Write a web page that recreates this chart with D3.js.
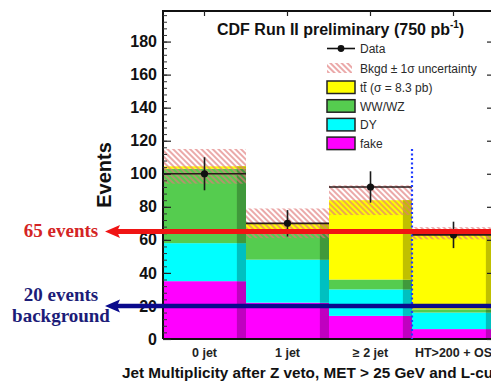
<!DOCTYPE html>
<html>
<head>
<meta charset="utf-8">
<script src="https://cdn.jsdelivr.net/npm/d3@7"></script>
<style>
  html, body { margin: 0; padding: 0; background: #ffffff; }
  svg { display: block; }
</style>
</head>
<body>
<svg id="chart" width="491" height="382"></svg>
<script>
// Jet-multiplicity bins and the stacked background expectations per bin
const categories = ["0 jet", "1 jet", "\u2265 2 jet", "HT>200 + OS"];
const fake = [35, 22, 14, 6];
const dy = [23, 26, 16, 10];
const wwwz = [45, 18, 6, 2];
const ttbar = [1.5, 4, 48, 46];
const bkgdErr = [10.5, 9, 9, 3.7];
const dataValues = [100, 70, 92, 63];
const dataErrors = [10, 8, 9.5, 8];
const yTicks = [0, 20, 40, 60, 80, 100, 120, 140, 160, 180];
const seriesNames = ["fake", "DY", "WW/WZ", "ttbar"];
const seriesLabels = ["fake", "DY", "WW/WZ", "tt (\u03c3 = 8.3 pb)"];
const seriesColors = ["#ff00ff", "#00ffff", "#55cc4f", "#ffff00"];
const markerLines = [65, 20];
const markerTexts = [["65 events"], ["20 events", "background"]];
const markerColors = ["#f01414", "#0a0a8c"];
const markerTextColors = ["#d42424", "#1c1c78"];
const cutBoundary = 3;          // bin edge where the HT>200 selection starts
const cutBoundaryTop = 115;

const svg = d3.select("#chart");
const W = 491, H = 382;
const plot = { left: 163, right: 495, top: 11, bottom: 339 };

const x = d3.scaleBand().domain(categories).range([plot.left, plot.right]).paddingInner(0).paddingOuter(0);
const xEdge = d3.scaleLinear().domain([0, categories.length]).range([plot.left, plot.right]);
const y = d3.scaleLinear().domain([0, 198.5]).range([plot.bottom, plot.top]);

// hatch pattern for the background uncertainty band
const defs = svg.append("defs");
const pat = defs.append("pattern")
  .attr("id", "bkgHatch")
  .attr("patternUnits", "userSpaceOnUse")
  .attr("width", 4).attr("height", 4)
  .attr("patternTransform", "rotate(-45)");
pat.append("line").attr("x1", 1).attr("y1", 0).attr("x2", 1).attr("y2", 4)
  .attr("stroke", "#e07a7a").attr("stroke-width", 1.3);

const clip = defs.append("clipPath").attr("id", "plotClip");
clip.append("rect").attr("x", plot.left).attr("y", plot.top)
  .attr("width", plot.right - plot.left).attr("height", plot.bottom - plot.top);

// stacked histogram
const rows = categories.map((c, i) => ({
  cat: c, fake: fake[i], DY: dy[i], "WW/WZ": wwwz[i], ttbar: ttbar[i]
}));
const stacked = d3.stack().keys(seriesNames)(rows);

const barG = svg.append("g").attr("clip-path", "url(#plotClip)");
stacked.forEach((layer, li) => {
  const base = seriesColors[li];
  const dark = d3.color(base).darker(0.8).formatHex();
  const g = barG.append("g");
  g.selectAll("rect.main").data(layer).join("rect")
    .attr("class", "main")
    .attr("x", d => x(d.data.cat))
    .attr("width", x.bandwidth())
    .attr("y", d => y(d[1]))
    .attr("height", d => y(d[0]) - y(d[1]))
    .attr("fill", base);
  // shaded right-hand edge of each bin
  g.selectAll("rect.edge").data(layer).join("rect")
    .attr("class", "edge")
    .attr("x", d => x(d.data.cat) + x.bandwidth() * 0.89)
    .attr("width", x.bandwidth() * 0.11)
    .attr("y", d => y(d[1]))
    .attr("height", d => y(d[0]) - y(d[1]))
    .attr("fill", dark);
});

// background +/- 1 sigma band
const totals = categories.map((c, i) => fake[i] + dy[i] + wwwz[i] + ttbar[i]);
barG.selectAll("rect.band").data(categories).join("rect")
  .attr("class", "band")
  .attr("x", c => x(c))
  .attr("width", x.bandwidth())
  .attr("y", (c, i) => y(totals[i] + bkgdErr[i]))
  .attr("height", (c, i) => y(totals[i] - bkgdErr[i]) - y(totals[i] + bkgdErr[i]))
  .attr("fill", "url(#bkgHatch)");

// data points with error bars
const dataG = svg.append("g").attr("clip-path", "url(#plotClip)");
categories.forEach((c, i) => {
  const cx = x(c) + x.bandwidth() / 2;
  dataG.append("line")
    .attr("x1", x(c)).attr("x2", x(c) + x.bandwidth())
    .attr("y1", y(dataValues[i])).attr("y2", y(dataValues[i]))
    .attr("stroke", "#2a1a1a").attr("stroke-width", 1.6);
  dataG.append("line")
    .attr("x1", cx).attr("x2", cx)
    .attr("y1", y(dataValues[i] + dataErrors[i])).attr("y2", y(dataValues[i] - dataErrors[i]))
    .attr("stroke", "#1a1a1a").attr("stroke-width", 1.6);
  dataG.append("circle")
    .attr("cx", cx).attr("cy", y(dataValues[i])).attr("r", 3.6)
    .attr("fill", "#111");
});

// frame
const frame = svg.append("g");
frame.append("path")
  .attr("d", `M${plot.left},${plot.bottom}V${plot.top}H${plot.right}V${plot.bottom}H${plot.left}`)
  .attr("fill", "none").attr("stroke", "#111").attr("stroke-width", 2);

// y axes (ticks pointing into the frame)
const minorTicks = d3.range(0, 200, 4);
const leftMinor = d3.axisLeft(y).tickValues(minorTicks).tickSizeInner(-4).tickSizeOuter(0).tickFormat("");
svg.append("g").attr("transform", `translate(${plot.left},0)`).call(leftMinor)
  .call(g => g.select(".domain").remove())
  .call(g => g.selectAll("line").attr("stroke", "#333").attr("stroke-width", 1));
const leftMajor = d3.axisLeft(y).tickValues(yTicks).tickSizeInner(-8).tickSizeOuter(0).tickPadding(6);
svg.append("g").attr("transform", `translate(${plot.left},0)`).call(leftMajor)
  .call(g => g.select(".domain").remove())
  .call(g => g.selectAll("line").attr("stroke", "#222").attr("stroke-width", 1.2))
  .call(g => g.selectAll("text")
    .attr("font-family", "'Liberation Sans', Arial, sans-serif")
    .attr("font-weight", "bold").attr("font-size", 16).attr("fill", "#111"));
const rightMinor = d3.axisRight(y).tickValues(minorTicks).tickSizeInner(-4).tickSizeOuter(0).tickFormat("");
svg.append("g").attr("transform", `translate(${plot.right},0)`).call(rightMinor)
  .call(g => g.select(".domain").remove())
  .call(g => g.selectAll("line").attr("stroke", "#333"));
const rightMajor = d3.axisRight(y).tickValues(yTicks).tickSizeInner(-8).tickSizeOuter(0).tickFormat("");
svg.append("g").attr("transform", `translate(${plot.right},0)`).call(rightMajor)
  .call(g => g.select(".domain").remove())
  .call(g => g.selectAll("line").attr("stroke", "#222").attr("stroke-width", 1.2));

// x axes: bin labels at the bottom, small ticks at the top
const xBottom = d3.axisBottom(x).tickSizeInner(0).tickSizeOuter(0).tickPadding(9);
svg.append("g").attr("transform", `translate(0,${plot.bottom})`).call(xBottom)
  .call(g => g.select(".domain").remove())
  .call(g => g.selectAll("text")
    .attr("font-family", "'Liberation Sans', Arial, sans-serif")
    .attr("font-weight", "bold").attr("font-size", 12.5).attr("fill", "#222"));
const xTop = d3.axisTop(x).tickSizeInner(-5).tickSizeOuter(0).tickFormat("");
svg.append("g").attr("transform", `translate(0,${plot.top})`).call(xTop)
  .call(g => g.select(".domain").remove())
  .call(g => g.selectAll("line").attr("stroke", "#222").attr("stroke-width", 1.2));

// axis titles
svg.append("text")
  .attr("transform", `translate(111,175) rotate(-90)`)
  .attr("text-anchor", "middle")
  .attr("font-family", "'Liberation Sans', Arial, sans-serif")
  .attr("font-weight", "bold").attr("font-size", 20).attr("fill", "#111")
  .text("Events");
svg.append("text")
  .attr("x", 122).attr("y", 378)
  .attr("font-family", "'Liberation Sans', Arial, sans-serif")
  .attr("font-weight", "bold").attr("font-size", 15.3).attr("fill", "#111")
  .text("Jet Multiplicity after Z veto, MET > 25 GeV and L-cut");

// plot title
const title = svg.append("text")
  .attr("x", 217).attr("y", 35)
  .attr("font-family", "'Liberation Sans', Arial, sans-serif")
  .attr("font-weight", "bold").attr("font-size", 16).attr("fill", "#111");
title.append("tspan").text("CDF Run II preliminary (750 pb");
title.append("tspan").attr("font-size", 10).attr("dy", -7).text("-1");
title.append("tspan").attr("dy", 7).text(")");

// legend
const legend = svg.append("g")
  .attr("font-family", "'Liberation Sans', Arial, sans-serif")
  .attr("font-size", 12).attr("fill", "#2a2a2a");
const lx = 327, lw = 28, tx = 360;
legend.append("line").attr("x1", lx).attr("x2", lx + lw).attr("y1", 48.5).attr("y2", 48.5)
  .attr("stroke", "#111").attr("stroke-width", 1.6);
legend.append("circle").attr("cx", lx + lw / 2).attr("cy", 48.5).attr("r", 3.4).attr("fill", "#111");
legend.append("text").attr("x", tx).attr("y", 53).text("Data");
legend.append("rect").attr("x", lx).attr("y", 63).attr("width", lw - 3).attr("height", 10)
  .attr("fill", "url(#bkgHatch)");
legend.append("text").attr("x", tx).attr("y", 73).text("Bkgd \u00b1 1\u03c3 uncertainty");

const legendOrder = [3, 2, 1, 0];
legendOrder.forEach((si, k) => {
  const top = 81 + k * 18.7;
  legend.append("rect").attr("x", lx).attr("y", top).attr("width", lw).attr("height", 12.5)
    .attr("fill", seriesColors[si]).attr("stroke", "#222").attr("stroke-width", 1.5);
  const t = legend.append("text").attr("x", tx).attr("y", top + 11).text(seriesLabels[si]);
  if (seriesNames[si] === "ttbar") {
    // bar over the second t of "tt"
    const node = t.node();
    const x0 = node.getStartPositionOfChar(1).x;
    const x1 = node.getEndPositionOfChar(1).x;
    legend.append("line").attr("x1", x0).attr("x2", x1)
      .attr("y1", top + 1.5).attr("y2", top + 1.5)
      .attr("stroke", "#2a2a2a").attr("stroke-width", 1);
  }
});

// dotted boundary of the HT>200 bin
svg.append("line")
  .attr("x1", xEdge(cutBoundary)).attr("x2", xEdge(cutBoundary))
  .attr("y1", y(cutBoundaryTop)).attr("y2", y(0))
  .attr("stroke", "#1f3cff").attr("stroke-width", 2.2)
  .attr("stroke-dasharray", "2,2.5");

// horizontal reference arrows with annotations
markerLines.forEach((v, i) => {
  const yy = y(v);
  const tip = 105;
  const g = svg.append("g");
  g.append("line").attr("x1", tip + 10).attr("x2", W).attr("y1", yy).attr("y2", yy)
    .attr("stroke", markerColors[i]).attr("stroke-width", i === 0 ? 5 : 4.5);
  g.append("path")
    .attr("d", `M${tip},${yy}L${tip + 15},${yy - 6.5}L${tip + 12},${yy}L${tip + 15},${yy + 6.5}Z`)
    .attr("fill", markerColors[i]);
  const lines = markerTexts[i];
  const t = g.append("text")
    .attr("text-anchor", "middle")
    .attr("font-family", "'Liberation Serif', 'Times New Roman', serif")
    .attr("font-weight", "bold").attr("font-size", 19)
    .attr("fill", markerTextColors[i]);
  lines.forEach((s, k) => {
    const baseline = lines.length === 1 ? yy + 5 : yy - 5 + k * 21.5;
    t.append("tspan").attr("x", 61).attr("y", baseline).text(s);
  });
});
</script>
</body>
</html>
